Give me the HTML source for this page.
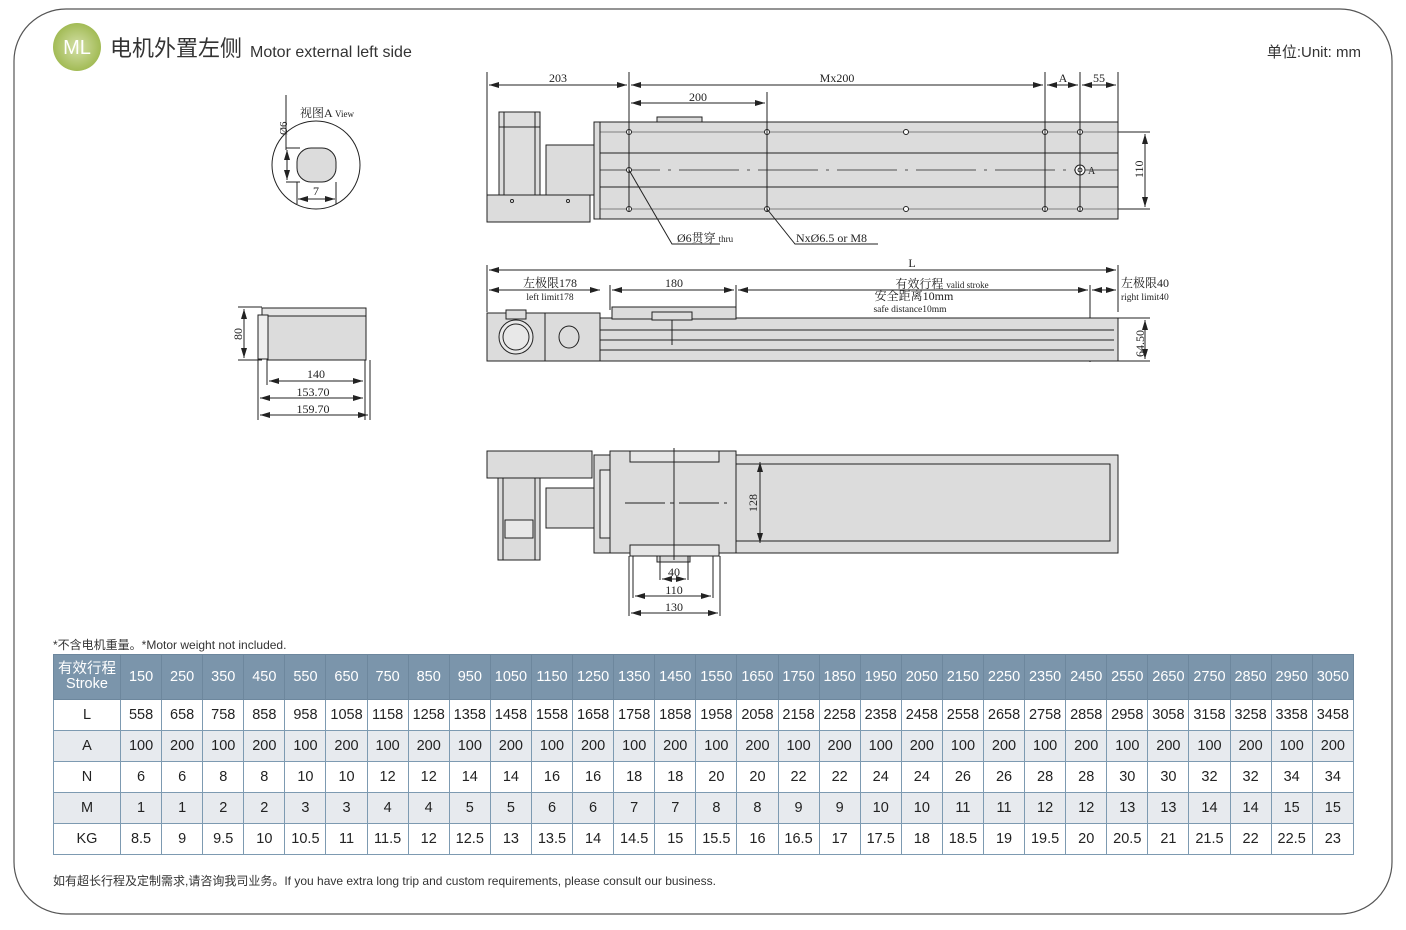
<!DOCTYPE html>
<html><head><meta charset="utf-8"><style>
html,body{margin:0;padding:0;background:#fff;}
body{width:1406px;height:930px;position:relative;overflow:hidden;font-family:"Liberation Sans","Noto Sans CJK SC",sans-serif;}
svg{position:absolute;left:0;top:0;}
table{position:absolute;left:53px;top:654px;width:1301px;border-collapse:collapse;table-layout:fixed;font-family:"Liberation Sans","Noto Sans CJK SC",sans-serif;font-size:14.5px;color:#222;}
td{border:1px solid #7d9ab1;text-align:center;padding:0;height:30px;}
tr.h td{background:#7b95ab;color:#fff;height:44px;font-size:14.5px;border-color:#6d879d;}
tr.g td{background:#e7eaee;}
.note{position:absolute;font-size:12px;color:#333;}
</style></head><body>
<svg width="1406" height="930" viewBox="0 0 1406 930" font-family="Liberation Serif, Noto Serif CJK SC, serif">
<defs>
<radialGradient id="gg" cx="50%" cy="50%" r="50%"><stop offset="0" stop-color="#d4e0a8"/><stop offset="1" stop-color="#a2bb55"/></radialGradient>
<marker id="ar" viewBox="0 0 10 6" refX="10" refY="3" markerWidth="10" markerHeight="6" orient="auto-start-reverse"><path d="M0,0L10,3L0,6z" fill="#222"/></marker>
</defs>
<rect x="14" y="9" width="1378" height="905" rx="52" fill="none" stroke="#555" stroke-width="1.2"/>
<circle cx="77" cy="47" r="24" fill="url(#gg)"/>
<text x="77" y="54" fill="#fff" font-size="20" text-anchor="middle" font-family="Liberation Sans, sans-serif">ML</text>
<text x="110" y="56" font-size="22" fill="#333" font-family="Liberation Sans, Noto Sans CJK SC, sans-serif">电机外置左侧</text>
<text x="250" y="57" font-size="16" fill="#333" font-family="Liberation Sans, sans-serif">Motor external left side</text>
<text x="1361" y="57" font-size="15" fill="#333" text-anchor="end" font-family="Liberation Sans, Noto Sans CJK SC, sans-serif">单位:Unit: mm</text>

<g stroke="#222" stroke-width="1" fill="none">
<circle cx="316" cy="165" r="44"/>
<rect x="297" y="148" width="39" height="34" rx="14" fill="#dcdcdc"/>
<line x1="286" y1="148" x2="300" y2="148"/><line x1="286" y1="182" x2="300" y2="182"/>
<line x1="287" y1="150" x2="287" y2="180" marker-start="url(#ar)" marker-end="url(#ar)"/>
<line x1="286" y1="95" x2="286" y2="150"/>
<line x1="297" y1="182" x2="297" y2="204"/><line x1="336" y1="182" x2="336" y2="204"/>
<line x1="298" y1="199" x2="335" y2="199" marker-start="url(#ar)" marker-end="url(#ar)"/>
<rect x="267" y="311" width="99" height="49" fill="#dcdcdc"/>
<rect x="262" y="308" width="104" height="8" fill="#e6e6e6"/>
<rect x="258" y="315" width="10" height="44" fill="#eee"/>
<line x1="238" y1="307" x2="262" y2="307"/><line x1="238" y1="360" x2="262" y2="360"/>
<line x1="244" y1="309" x2="244" y2="358" marker-start="url(#ar)" marker-end="url(#ar)"/>
<line x1="267" y1="360" x2="267" y2="385"/><line x1="365" y1="360" x2="365" y2="420"/>
<line x1="258" y1="360" x2="258" y2="420"/><line x1="370" y1="360" x2="370" y2="420"/>
<line x1="269" y1="381" x2="363" y2="381" marker-start="url(#ar)" marker-end="url(#ar)"/>
<line x1="260" y1="398" x2="363" y2="398" marker-start="url(#ar)" marker-end="url(#ar)"/>
<line x1="260" y1="415" x2="368" y2="415" marker-start="url(#ar)" marker-end="url(#ar)"/>

<rect x="499" y="112" width="41" height="83" fill="#dedede"/>
<line x1="504" y1="112" x2="504" y2="195"/><line x1="535" y1="112" x2="535" y2="195"/>
<line x1="499" y1="127" x2="540" y2="127"/>
<rect x="487" y="195" width="103" height="27" fill="#dcdcdc"/>
<rect x="546" y="145" width="49" height="50" fill="#dcdcdc"/>
<rect x="594" y="122" width="524" height="97" fill="#dcdcdc"/>
<line x1="600" y1="122" x2="600" y2="219"/>
<rect x="657" y="117" width="45" height="5" fill="#dcdcdc"/>
<line x1="600" y1="153" x2="1118" y2="153"/><line x1="600" y1="187" x2="1118" y2="187"/>
<line x1="600" y1="132" x2="1118" y2="132" stroke-width="0.6"/><line x1="600" y1="209" x2="1118" y2="209" stroke-width="0.6"/>
<line x1="600" y1="170" x2="1118" y2="170" stroke-dasharray="60,8,3,8" stroke-width="0.7"/>
<g fill="#fff"><circle cx="629" cy="132" r="2.5"/><circle cx="767" cy="132" r="2.5"/><circle cx="906" cy="132" r="2.5"/><circle cx="1045" cy="132" r="2.5"/><circle cx="1080" cy="132" r="2.5"/>
<circle cx="629" cy="209" r="2.5"/><circle cx="767" cy="209" r="2.5"/><circle cx="906" cy="209" r="2.5"/><circle cx="1045" cy="209" r="2.5"/><circle cx="1080" cy="209" r="2.5"/><circle cx="629" cy="170" r="2.5"/>
<circle cx="1080" cy="170" r="5"/><circle cx="1080" cy="170" r="2"/><circle cx="512" cy="201" r="1.5"/><circle cx="568" cy="201" r="1.5"/></g>
<line x1="487" y1="72" x2="487" y2="195"/>
<line x1="629" y1="72" x2="629" y2="212"/><line x1="767" y1="92" x2="767" y2="212"/>
<line x1="1045" y1="72" x2="1045" y2="212"/><line x1="1080" y1="72" x2="1080" y2="212"/><line x1="1118" y1="72" x2="1118" y2="122"/>
<line x1="489" y1="85" x2="627" y2="85" marker-start="url(#ar)" marker-end="url(#ar)"/>
<line x1="631" y1="85" x2="1043" y2="85" marker-start="url(#ar)" marker-end="url(#ar)"/>
<line x1="1047" y1="85" x2="1078" y2="85" marker-start="url(#ar)" marker-end="url(#ar)"/>
<line x1="1082" y1="85" x2="1116" y2="85" marker-start="url(#ar)" marker-end="url(#ar)"/>
<line x1="631" y1="103" x2="765" y2="103" marker-start="url(#ar)" marker-end="url(#ar)"/>
<line x1="1118" y1="132" x2="1150" y2="132"/><line x1="1118" y1="209" x2="1150" y2="209"/>
<line x1="1145" y1="134" x2="1145" y2="207" marker-start="url(#ar)" marker-end="url(#ar)"/>
<polyline points="629,170 672,244 720,244"/><polyline points="767,209 795,244 878,244"/>

<line x1="487" y1="265" x2="487" y2="312"/><line x1="1118" y1="265" x2="1118" y2="312"/>
<line x1="489" y1="270" x2="1116" y2="270" marker-start="url(#ar)" marker-end="url(#ar)"/>
<line x1="489" y1="290" x2="600" y2="290" marker-start="url(#ar)" marker-end="url(#ar)"/>
<line x1="612" y1="290" x2="734" y2="290" marker-start="url(#ar)" marker-end="url(#ar)"/>
<line x1="738" y1="290" x2="1088" y2="290" marker-start="url(#ar)" marker-end="url(#ar)"/>
<line x1="1092" y1="290" x2="1116" y2="290" marker-start="url(#ar)" marker-end="url(#ar)"/>
<line x1="610" y1="285" x2="610" y2="310"/><line x1="736" y1="285" x2="736" y2="310"/><line x1="1090" y1="285" x2="1090" y2="362"/>
<rect x="487" y="313" width="113" height="48" fill="#dcdcdc"/>
<line x1="545" y1="313" x2="545" y2="361"/>
<circle cx="516" cy="337" r="17" fill="#e8e8e8"/><circle cx="516" cy="337" r="13"/>
<rect x="506" y="310" width="20" height="9" fill="#dcdcdc"/>
<ellipse cx="569" cy="337" rx="10" ry="11"/>
<rect x="600" y="318" width="518" height="43" fill="#dcdcdc"/>
<line x1="600" y1="330" x2="1114" y2="330"/><line x1="600" y1="340" x2="1114" y2="340"/><line x1="600" y1="350" x2="1114" y2="350"/>
<rect x="612" y="307" width="124" height="12" fill="#dcdcdc"/>
<rect x="652" y="312" width="40" height="8" fill="#dcdcdc"/>
<line x1="672" y1="320" x2="672" y2="345"/>
<line x1="1118" y1="318" x2="1150" y2="318"/><line x1="1118" y1="361" x2="1150" y2="361"/>
<line x1="1145" y1="320" x2="1145" y2="359" marker-start="url(#ar)" marker-end="url(#ar)"/>

<rect x="487" y="451" width="105" height="27" fill="#dcdcdc"/>
<rect x="498" y="478" width="42" height="82" fill="#dcdcdc"/>
<line x1="503" y1="478" x2="503" y2="560"/><line x1="535" y1="478" x2="535" y2="560"/>
<rect x="505" y="520" width="28" height="18" fill="#e8e8e8"/>
<rect x="546" y="488" width="52" height="40" fill="#dcdcdc"/>
<rect x="594" y="455" width="524" height="98" fill="#dcdcdc"/>
<rect x="600" y="470" width="10" height="68" fill="#e6e6e6"/>
<rect x="610" y="451" width="126" height="102" fill="#dcdcdc"/>
<rect x="630" y="451" width="89" height="11" fill="#e6e6e6"/>
<rect x="630" y="545" width="89" height="11" fill="#e6e6e6"/>
<rect x="657" y="556" width="33" height="6" fill="#ddd"/>
<rect x="736" y="464" width="374" height="77" fill="#dcdcdc"/>
<line x1="674" y1="448" x2="674" y2="560"/>
<line x1="625" y1="503" x2="727" y2="503" stroke-dasharray="40,5,4,5"/>
<line x1="760" y1="462" x2="760" y2="543" marker-start="url(#ar)" marker-end="url(#ar)"/>
<line x1="629" y1="556" x2="629" y2="616"/><line x1="720" y1="556" x2="720" y2="616"/>
<line x1="633" y1="556" x2="633" y2="598"/><line x1="713" y1="556" x2="713" y2="598"/>
<line x1="660" y1="556" x2="660" y2="580"/><line x1="688" y1="556" x2="688" y2="580"/>
<line x1="662" y1="579" x2="686" y2="579" marker-start="url(#ar)" marker-end="url(#ar)"/>
<line x1="635" y1="596" x2="711" y2="596" marker-start="url(#ar)" marker-end="url(#ar)"/>
<line x1="631" y1="613" x2="718" y2="613" marker-start="url(#ar)" marker-end="url(#ar)"/>
</g>
<g font-size="12" fill="#222">
<text x="300" y="117">视图A <tspan font-size="9">View</tspan></text>
<text transform="translate(287,135) rotate(-90)" font-size="11">Ø6</text>
<text x="316" y="195" text-anchor="middle">7</text>
<text transform="translate(242,340) rotate(-90)">80</text>
<text x="316" y="378" text-anchor="middle">140</text>
<text x="313" y="396" text-anchor="middle">153.70</text>
<text x="313" y="413" text-anchor="middle">159.70</text>
<text x="558" y="82" text-anchor="middle">203</text>
<text x="837" y="82" text-anchor="middle">Mx200</text>
<text x="1063" y="82" text-anchor="middle">A</text>
<text x="1099" y="82" text-anchor="middle">55</text>
<text x="698" y="101" text-anchor="middle">200</text>
<text transform="translate(1143,178) rotate(-90)">110</text>
<text x="1088" y="174" font-size="10">A</text>
<text x="677" y="242">Ø6贯穿 <tspan font-size="9">thru</tspan></text>
<text x="796" y="242">NxØ6.5 or M8</text>
<text x="912" y="267" text-anchor="middle">L</text>
<text x="550" y="287" text-anchor="middle">左极限178</text>
<text x="550" y="300" text-anchor="middle" font-size="9.5">left limit178</text>
<text x="674" y="287" text-anchor="middle">180</text>
<text x="942" y="288" text-anchor="middle">有效行程 <tspan font-size="9">valid stroke</tspan></text>
<text x="914" y="300" text-anchor="middle">安全距离10mm</text>
<text x="910" y="312" text-anchor="middle" font-size="9.5">safe distance10mm</text>
<text x="1121" y="287">左极限40</text>
<text x="1121" y="300" font-size="9.5">right limit40</text>
<text transform="translate(1144,357) rotate(-90)">64.50</text>
<text transform="translate(757,512) rotate(-90)">128</text>
<text x="674" y="576" text-anchor="middle">40</text>
<text x="674" y="594" text-anchor="middle">110</text>
<text x="674" y="611" text-anchor="middle">130</text>
</g>
</svg>
<div class="note" style="left:53px;top:636px;">*不含电机重量。*Motor weight not included.</div>
<table>
<colgroup><col style="width:67px"></colgroup>
<tr class="h"><td style="line-height:15px">有效行程<br>Stroke</td><td>150</td><td>250</td><td>350</td><td>450</td><td>550</td><td>650</td><td>750</td><td>850</td><td>950</td><td>1050</td><td>1150</td><td>1250</td><td>1350</td><td>1450</td><td>1550</td><td>1650</td><td>1750</td><td>1850</td><td>1950</td><td>2050</td><td>2150</td><td>2250</td><td>2350</td><td>2450</td><td>2550</td><td>2650</td><td>2750</td><td>2850</td><td>2950</td><td>3050</td></tr>
<tr><td>L</td><td>558</td><td>658</td><td>758</td><td>858</td><td>958</td><td>1058</td><td>1158</td><td>1258</td><td>1358</td><td>1458</td><td>1558</td><td>1658</td><td>1758</td><td>1858</td><td>1958</td><td>2058</td><td>2158</td><td>2258</td><td>2358</td><td>2458</td><td>2558</td><td>2658</td><td>2758</td><td>2858</td><td>2958</td><td>3058</td><td>3158</td><td>3258</td><td>3358</td><td>3458</td></tr>
<tr class="g"><td>A</td><td>100</td><td>200</td><td>100</td><td>200</td><td>100</td><td>200</td><td>100</td><td>200</td><td>100</td><td>200</td><td>100</td><td>200</td><td>100</td><td>200</td><td>100</td><td>200</td><td>100</td><td>200</td><td>100</td><td>200</td><td>100</td><td>200</td><td>100</td><td>200</td><td>100</td><td>200</td><td>100</td><td>200</td><td>100</td><td>200</td></tr>
<tr><td>N</td><td>6</td><td>6</td><td>8</td><td>8</td><td>10</td><td>10</td><td>12</td><td>12</td><td>14</td><td>14</td><td>16</td><td>16</td><td>18</td><td>18</td><td>20</td><td>20</td><td>22</td><td>22</td><td>24</td><td>24</td><td>26</td><td>26</td><td>28</td><td>28</td><td>30</td><td>30</td><td>32</td><td>32</td><td>34</td><td>34</td></tr>
<tr class="g"><td>M</td><td>1</td><td>1</td><td>2</td><td>2</td><td>3</td><td>3</td><td>4</td><td>4</td><td>5</td><td>5</td><td>6</td><td>6</td><td>7</td><td>7</td><td>8</td><td>8</td><td>9</td><td>9</td><td>10</td><td>10</td><td>11</td><td>11</td><td>12</td><td>12</td><td>13</td><td>13</td><td>14</td><td>14</td><td>15</td><td>15</td></tr>
<tr><td>KG</td><td>8.5</td><td>9</td><td>9.5</td><td>10</td><td>10.5</td><td>11</td><td>11.5</td><td>12</td><td>12.5</td><td>13</td><td>13.5</td><td>14</td><td>14.5</td><td>15</td><td>15.5</td><td>16</td><td>16.5</td><td>17</td><td>17.5</td><td>18</td><td>18.5</td><td>19</td><td>19.5</td><td>20</td><td>20.5</td><td>21</td><td>21.5</td><td>22</td><td>22.5</td><td>23</td></tr>
</table>
<div class="note" style="left:53px;top:872px;">如有超长行程及定制需求,请咨询我司业务。If you have extra long trip and custom requirements, please consult our business.</div>
</body></html>
